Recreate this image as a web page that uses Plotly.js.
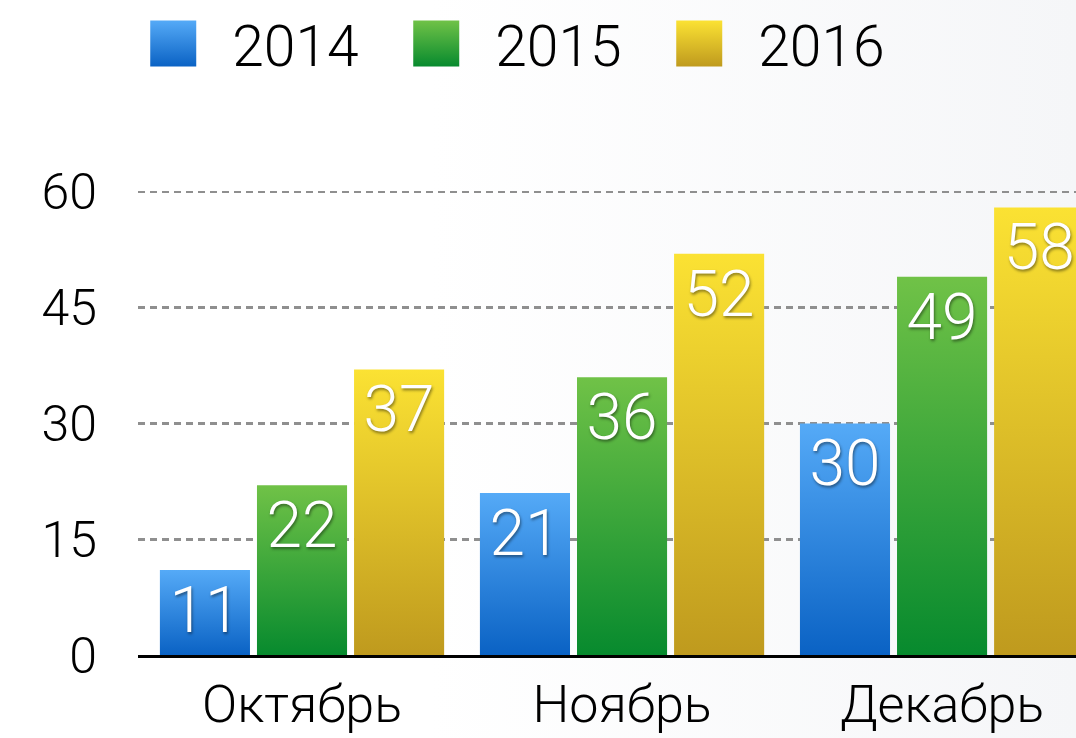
<!DOCTYPE html>
<html>
<head>
<meta charset="utf-8">
<script src="https://cdn.plot.ly/plotly-3.0.1.min.js"></script>
<style>
html,body{margin:0;padding:0;width:1076px;height:738px;overflow:hidden;
background:linear-gradient(to right,#ffffff 0%,#ffffff 40%,#f5f6f8 100%);}
#chart{width:1120px;height:738px;}
</style>
</head>
<body>
<div id="chart"></div>
<script>
const categories = ['Октябрь', 'Ноябрь', 'Декабрь'];
const seriesNames = ['2014', '2015', '2016'];
const values2014 = [11, 21, 30];
const values2015 = [22, 36, 49];
const values2016 = [37, 52, 58];
const yTicks = [0, 15, 30, 45, 60];

const gradients = [
  ['#55aaf7', '#0a62c4'],
  ['#70c247', '#078a2e'],
  ['#fbe233', '#bf9a1e']
];
const allValues = [values2014, values2015, values2016];
const FONT = 'Roboto, "Helvetica Neue", "Liberation Sans", sans-serif';

const traces = allValues.map((vals, i) => ({
  type: 'bar',
  name: seriesNames[i],
  x: categories,
  y: vals,
  text: vals.map(String),
  textposition: 'inside',
  insidetextanchor: 'end',
  constraintext: 'none',
  textangle: 0,
  textfont: {family: FONT, size: 64, color: '#ffffff', weight: 300,
             shadow: '1px 2px 3px rgba(0,0,0,0.45)'},
  marker: {color: gradients[i][1], line: {width: 0}},
  hoverinfo: 'none'
}));

const layout = {
  width: 1120, height: 738,
  margin: {l: 138, r: 0, t: 100, b: 83},
  paper_bgcolor: 'rgba(0,0,0,0)',
  plot_bgcolor: 'rgba(0,0,0,0)',
  barmode: 'group',
  bargap: 0.09,
  bargroupgap: 0.072,
  showlegend: true,
  legend: {
    orientation: 'h', xref: 'container', yref: 'container',
    x: 0.102, y: 1, xanchor: 'left', yanchor: 'top',
    itemwidth: 108,
    entrywidth: 140,
    font: {family: FONT, size: 57, color: '#000', weight: 300},
    bgcolor: 'rgba(0,0,0,0)', traceorder: 'normal'
  },
  xaxis: {
    type: 'category',
    range: [-0.5125, 2.556],
    showline: true, linecolor: '#000', linewidth: 2.5,
    showgrid: false, zeroline: false, ticks: '',
    ticklabelstandoff: 2,
    tickfont: {family: FONT, size: 52, color: '#000', weight: 300},
    fixedrange: true
  },
  yaxis: {
    range: [0, 71.92],
    tickvals: yTicks,
    ticktext: yTicks.map(String),
    showline: false, zeroline: false,
    showgrid: true, gridcolor: '#8f8f8f', gridwidth: 2.5, griddash: '7px,5px',
    ticks: '', ticklabelstandoff: 40,
    tickfont: {family: FONT, size: 50, color: '#000', weight: 300},
    fixedrange: true
  },
  font: {family: FONT}
};

Plotly.newPlot('chart', traces, layout, {staticPlot: true, displayModeBar: false}).then(gd => {
  const svg = gd.querySelector('svg.main-svg');
  const NS = 'http://www.w3.org/2000/svg';
  let defs = svg.querySelector('defs');
  if (!defs) { defs = document.createElementNS(NS, 'defs'); svg.insertBefore(defs, svg.firstChild); }
  gradients.forEach((g, i) => {
    const lg = document.createElementNS(NS, 'linearGradient');
    lg.setAttribute('id', 'barGrad' + i);
    lg.setAttribute('x1', '0'); lg.setAttribute('y1', '0');
    lg.setAttribute('x2', '0'); lg.setAttribute('y2', '1');
    [[0, g[0]], [1, g[1]]].forEach(([o, c]) => {
      const st = document.createElementNS(NS, 'stop');
      st.setAttribute('offset', String(o));
      st.setAttribute('stop-color', c);
      lg.appendChild(st);
    });
    defs.appendChild(lg);
  });
  gd.querySelectorAll('.barlayer .trace').forEach((t, i) => {
    t.querySelectorAll('.point path').forEach(p => { p.style.fill = 'url(#barGrad' + i + ')'; });
  });
  gd.querySelectorAll('.legend .traces').forEach((t, i) => {
    t.querySelectorAll('.legendpoints path').forEach(p => {
      p.setAttribute('d', 'M23,23H-23V-23H23Z');
      p.style.fill = 'url(#barGrad' + i + ')';
      p.style.stroke = 'none';
    });
  });
});
</script>
</body>
</html>
